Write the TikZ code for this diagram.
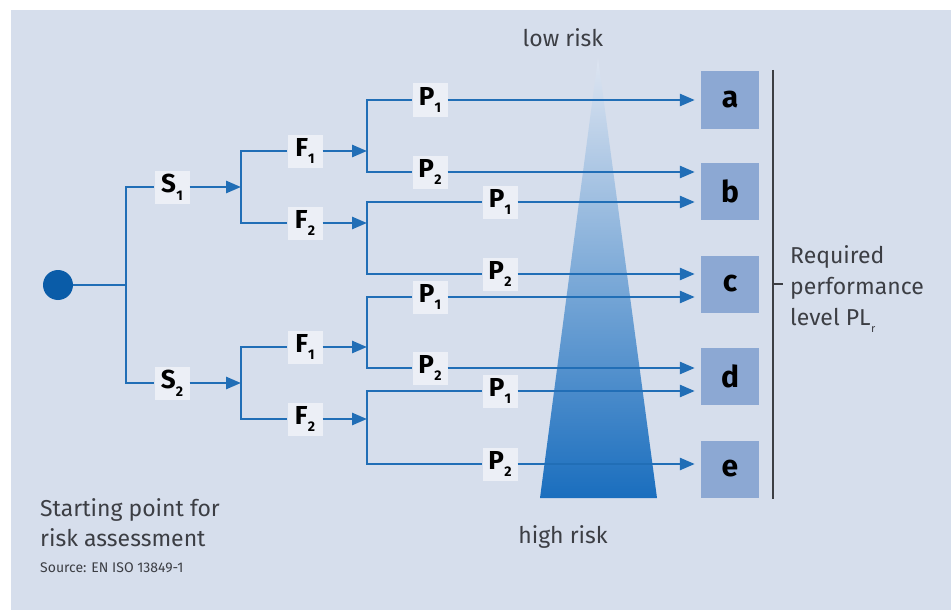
\documentclass[tikz,border=0pt]{standalone}
\usepackage{fontspec}
\setmainfont{Fira Sans}
\usetikzlibrary{arrows.meta}

\definecolor{panel}{RGB}{214,222,236}
\definecolor{lineblue}{RGB}{33,110,182}
\definecolor{dotblue}{RGB}{10,92,168}
\definecolor{labfill}{RGB}{236,239,246}
\definecolor{boxfill}{RGB}{140,168,211}
\definecolor{textgray}{RGB}{60,62,68}
\definecolor{trilight}{RGB}{222,229,241}
\definecolor{trimid}{RGB}{100,148,208}
\definecolor{tridark}{RGB}{26,110,190}

\newcommand\idx[1]{\kern0.2pt\raisebox{-0.3em}{\fontsize{14}{14}\selectfont #1}}

\begin{document}
\begin{tikzpicture}[x=1pt,y=-1pt,
  ln/.style={draw=lineblue, line width=2.7pt},
  arr/.style={ln, -{Triangle[length=15pt,width=12pt]}},
  lab/.style={fill=labfill, text=black, inner sep=0pt,
    minimum width=35pt, minimum height=33pt,
    font=\bfseries\fontsize{26}{26}\selectfont},
  plbox/.style={fill=boxfill, text=black, inner sep=0pt,
    minimum width=58pt, minimum height=57pt,
    font=\bfseries\fontsize{30}{30}\selectfont},
  txt/.style={text=textgray, inner sep=0pt, align=left,
    font=\fontsize{23}{31}\selectfont}
]
% page and panel
\useasboundingbox (0,0) rectangle (951,610);
\fill[white] (0,0) rectangle (951,610);
\fill[panel] (11,10) rectangle (951,610);

% risk wedge
\coordinate (apex) at (598,58);
\coordinate (bl) at (540,498);
\coordinate (br) at (657,498);
\shade[top color=trilight, middle color=trimid, bottom color=tridark]
  (apex) -- (br) -- (bl) -- cycle;
\node[text=textgray, font=\fontsize{23}{23}\selectfont] (low) at (563,38) {low risk};
\node[text=textgray, font=\fontsize{23}{23}\selectfont] (high) at (563,537) {high risk};

% performance level boxes
\node[plbox] (a) at (730,100) {a};
\node[plbox] (b) at (730,191) {b};
\node[plbox] (c) at (730,284) {c};
\node[plbox] (d) at (730,376) {d};
\node[plbox] (e) at (730,469) {e};

% bracket and caption
\coordinate (brtop) at (773,70);
\coordinate (brbot) at (773,499);
\coordinate (brmid) at (773,284);
\coordinate (brtick) at (783,284);
\draw[textgray, line width=1.4pt] (brtop) -- (brbot);
\draw[textgray, line width=1.4pt] (brmid) -- (brtick);
\node[txt, anchor=west] (plr) at (790,289)
  {Required\\performance\\level PL\kern0.5pt\raisebox{-0.3em}{\fontsize{11}{11}\selectfont r}};

% start
\node[circle, fill=dotblue, minimum size=30pt, inner sep=0pt] (start) at (58,285) {};
\coordinate (j0) at (126,285);

% severity
\node[lab] (s1) at (172,187) {S\idx{1}};
\node[lab] (s2) at (172,383) {S\idx{2}};
\coordinate (fj1) at (241,187);
\coordinate (fj2) at (241,383);

% frequency
\node[lab] (f11) at (305,151) {F\idx{1}};
\node[lab] (f12) at (305,223) {F\idx{2}};
\node[lab] (f21) at (305,347) {F\idx{1}};
\node[lab] (f22) at (305,419) {F\idx{2}};
\coordinate (pj11) at (367,151);
\coordinate (pj12) at (367,223);
\coordinate (pj21) at (367,347);
\coordinate (pj22) at (367,419);

% possibility of avoidance
\node[lab] (p111) at (430,100) {P\idx{1}};
\node[lab] (p112) at (430,172) {P\idx{2}};
\node[lab] (p121) at (500,202) {P\idx{1}};
\node[lab] (p122) at (500,274) {P\idx{2}};
\node[lab] (p211) at (430,297) {P\idx{1}};
\node[lab] (p212) at (430,368) {P\idx{2}};
\node[lab] (p221) at (500,391) {P\idx{1}};
\node[lab] (p222) at (500,464) {P\idx{2}};

% tree lines
\draw[ln] (start) -- (j0);
\draw[ln] (j0) |- (s1.west);
\draw[ln] (j0) |- (s2.west);
\draw[arr] (s1.east) -- (fj1);
\draw[arr] (s2.east) -- (fj2);
\draw[ln] (fj1) |- (f11.west);
\draw[ln] (fj1) |- (f12.west);
\draw[ln] (fj2) |- (f21.west);
\draw[ln] (fj2) |- (f22.west);
\draw[arr] (f11.east) -- (pj11);
\draw[arr] (f12.east) -- (pj12);
\draw[arr] (f21.east) -- (pj21);
\draw[arr] (f22.east) -- (pj22);
\draw[ln] (pj11) |- (p111.west);
\draw[ln] (pj11) |- (p112.west);
\draw[ln] (pj12) |- (p121.west);
\draw[ln] (pj12) |- (p122.west);
\draw[ln] (pj21) |- (p211.west);
\draw[ln] (pj21) |- (p212.west);
\draw[ln] (pj22) |- (p221.west);
\draw[ln] (pj22) |- (p222.west);

% results
\draw[arr, shorten >=6pt] (p111.east) -- (p111 -| a.west);
\draw[arr, shorten >=6pt] (p112.east) -- (p112 -| b.west);
\draw[arr, shorten >=6pt] (p121.east) -- (p121 -| b.west);
\draw[arr, shorten >=6pt] (p122.east) -- (p122 -| c.west);
\draw[arr, shorten >=6pt] (p211.east) -- (p211 -| c.west);
\draw[arr, shorten >=6pt] (p212.east) -- (p212 -| d.west);
\draw[arr, shorten >=6pt] (p221.east) -- (p221 -| d.west);
\draw[arr, shorten >=6pt] (p222.east) -- (p222 -| e.west);

% notes
\node[txt, anchor=west, font=\fontsize{23}{30}\selectfont] (startnote) at (40,523)
  {Starting point for\\risk assessment};
\node[text=textgray, inner sep=0pt, anchor=west, font=\fontsize{14}{14}\selectfont] (source) at (40,568)
  {Source: EN ISO 13849-1};
\end{tikzpicture}
\end{document}
